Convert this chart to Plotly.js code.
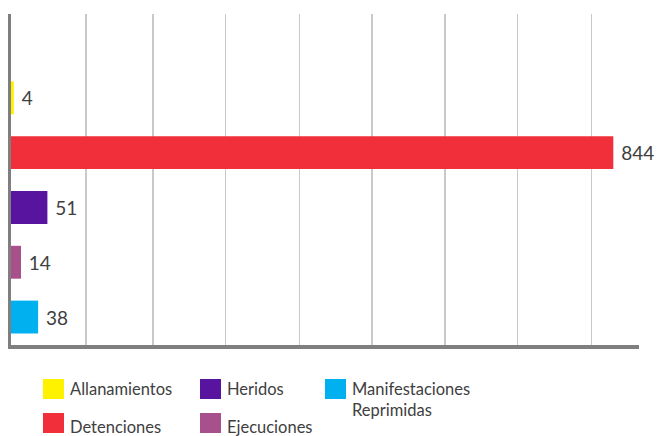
<!DOCTYPE html>
<html>
<head>
<meta charset="utf-8">
<script src="https://cdn.plot.ly/plotly-3.0.1.min.js"></script>
<style>html,body{margin:0;padding:0;background:#fff;}#chart{width:657px;height:436px;}</style>
</head>
<body>
<div id="chart"></div>
<script>
// ---- data ----
const categories = ['Allanamientos', 'Detenciones', 'Heridos', 'Ejecuciones', 'Manifestaciones Reprimidas'];
const values = [4, 844, 51, 14, 38];
const colors = ['#FFF200', '#F12F3A', '#58149F', '#A8508C', '#00B0EF'];
const gridValues = [105, 199, 301, 404, 506, 608, 710, 813];

// ---- layout constants ----
const W = 657, H = 436;
const M = {l: 11, r: 18, t: 14, b: 91};
const plotW = W - M.l - M.r, plotH = H - M.t - M.b;
const px2x = px => (px - M.l) / plotW;
const py2y = py => (H - M.b - py) / plotH;
const FONT = 'Lato, "Open Sans", sans-serif';
const TXT = '#404040';

const traces = categories.map((c, i) => ({
  type: 'bar',
  orientation: 'h',
  y: [c],
  x: [values[i]],
  name: c,
  width: 0.6,
  marker: {color: colors[i], line: {width: 0}},
  text: [values[i]],
  texttemplate: ' %{x}',
  textposition: 'outside',
  cliponaxis: false,
  textfont: {family: FONT, size: 19, color: TXT},
  hoverinfo: 'x+y',
  showlegend: false
}));

// custom legend (column-major, 2 rows)
const colX = [43, 200, 325];
const rowY = [379, 413];
const sq = 21;
const shapes = [];
const annotations = [];
categories.forEach((c, i) => {
  const col = Math.floor(i / 2), row = i % 2;
  const x0 = colX[col], y0 = rowY[row];
  shapes.push({
    type: 'rect', xref: 'paper', yref: 'paper',
    x0: px2x(x0), x1: px2x(x0 + sq), y0: py2y(y0), y1: py2y(y0 + sq - 1),
    fillcolor: colors[i], line: {width: 0}
  });
  const words = c.split(' ');
  const cy = row === 0 ? y0 + 10 + (words.length - 1) * 10 : y0 + 14;
  annotations.push({
    xref: 'paper', yref: 'paper',
    x: px2x(x0 + sq + 4), y: py2y(cy),
    xanchor: 'left', yanchor: 'middle', align: 'left',
    text: words.join('<br>'), showarrow: false,
    font: {family: FONT, size: 16.5, color: TXT}
  });
});

const layout = {
  width: W, height: H,
  margin: M,
  paper_bgcolor: '#fff', plot_bgcolor: '#fff',
  barmode: 'overlay',
  showlegend: false,
  xaxis: {
    range: [0, 880],
    tickmode: 'array', tickvals: gridValues,
    showticklabels: false, ticks: '',
    showgrid: true, gridcolor: '#c9c9c9', gridwidth: 1.3,
    zeroline: false,
    showline: true, linecolor: '#7f7f7f', linewidth: 3.5,
    fixedrange: true
  },
  yaxis: {
    type: 'category',
    categoryorder: 'array', categoryarray: categories,
    range: [4.51, -1.53],
    showticklabels: false, ticks: '',
    showgrid: false, zeroline: false,
    showline: true, linecolor: '#7f7f7f', linewidth: 3,
    fixedrange: true
  },
  shapes: shapes,
  annotations: annotations
};

Plotly.newPlot('chart', traces, layout, {displayModeBar: false, staticPlot: true});
</script>
</body>
</html>
